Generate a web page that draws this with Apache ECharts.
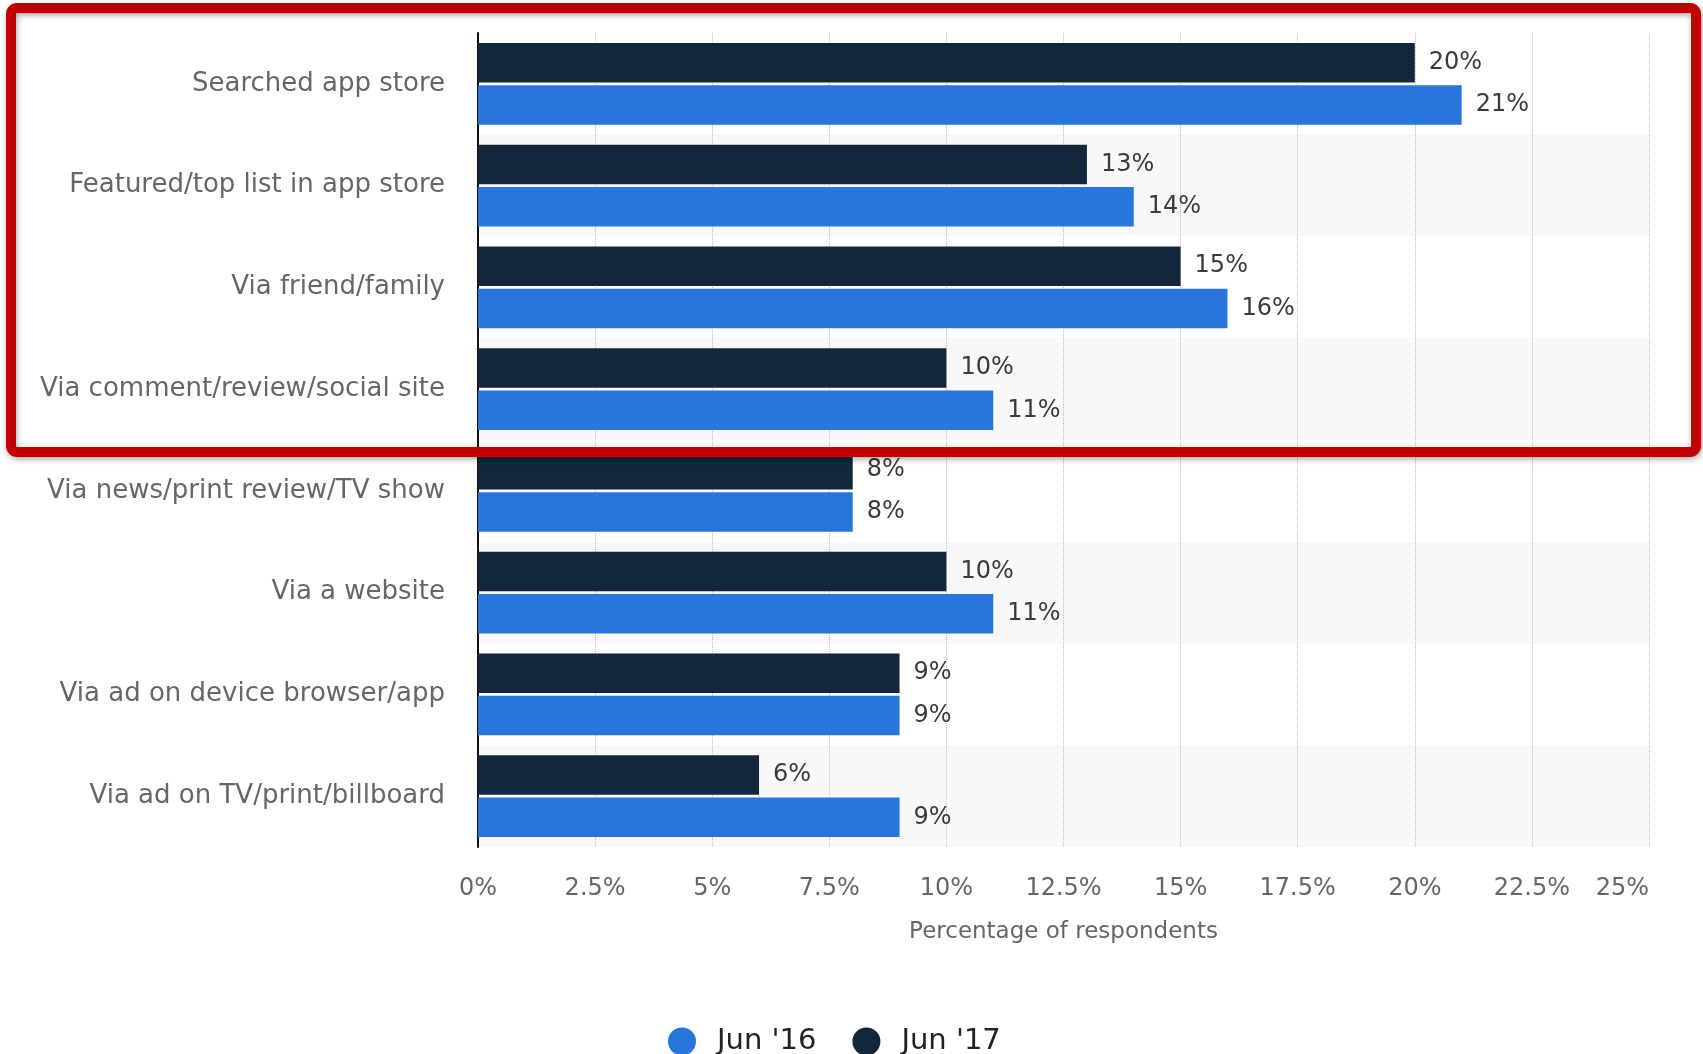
<!DOCTYPE html>
<html>
<head>
<meta charset="utf-8">
<script src="https://cdn.jsdelivr.net/npm/echarts@6/dist/echarts.min.js"></script>
<style>
html,body{margin:0;padding:0;background:#fff;}
#chart{width:1703px;height:1054px;}
</style>
</head>
<body>
<div id="chart"></div>
<script>
const categories = [
  "Searched app store",
  "Featured/top list in app store",
  "Via friend/family",
  "Via comment/review/social site",
  "Via news/print review/TV show",
  "Via a website",
  "Via ad on device browser/app",
  "Via ad on TV/print/billboard"
];
const jun16 = [21, 14, 16, 11, 8, 11, 9, 9];
const jun17 = [20, 13, 15, 10, 8, 10, 9, 6];
const seriesNames = ["Jun '16", "Jun '17"];
const xTicksMax = 25;
const xTickStep = 2.5;

const FONT = "'DejaVu Sans', 'Noto Sans', sans-serif";
const chart = echarts.init(document.getElementById('chart'), null, {renderer: 'canvas'});

const labelCfg = {
  show: true,
  position: 'right',
  distance: 14,
  formatter: p => p.value + '%',
  color: '#3a3a3a',
  fontSize: 24,
  fontFamily: FONT
};

chart.setOption({
  animation: false,
  backgroundColor: '#fff',
  grid: {left: 478, right: 54, top: 33, bottom: 207, containLabel: false},
  xAxis: {
    type: 'value',
    min: 0,
    max: xTicksMax,
    interval: xTickStep,
    name: 'Percentage of respondents',
    nameLocation: 'middle',
    nameGap: 74,
    nameTextStyle: {color: '#666', fontSize: 23, fontFamily: FONT},
    axisLine: {show: false},
    axisTick: {show: false},
    axisLabel: {
      color: '#666', fontSize: 24, fontFamily: FONT, margin: 30,
      formatter: v => v + '%',
      alignMaxLabel: 'right'
    },
    splitLine: {show: true, lineStyle: {color: '#bdbdbd', type: 'dotted', width: 1}}
  },
  yAxis: {
    type: 'category',
    data: categories,
    inverse: true,
    axisLine: {show: true, lineStyle: {color: '#111', width: 2}},
    axisTick: {show: false},
    axisLabel: {color: '#666', fontSize: 26, fontFamily: FONT, margin: 33},
    splitArea: {show: true, areaStyle: {color: ['#ffffff', '#f8f8f8']}},
    splitLine: {show: false}
  },
  legend: {
    data: seriesNames,
    left: 663,
    top: 1022,
    icon: 'circle',
    itemWidth: 28,
    itemHeight: 28,
    itemGap: 36,
    textStyle: {color: '#222', fontSize: 29, fontFamily: FONT, padding: [0, 0, 0, 16]}
  },
  series: [
    {
      name: seriesNames[1],
      type: 'bar',
      data: jun17,
      barGap: '7.5%',
      barCategoryGap: '19.5%',
      itemStyle: {color: '#13263b'},
      label: labelCfg
    },
    {
      name: seriesNames[0],
      type: 'bar',
      data: jun16,
      barGap: '7.5%',
      barCategoryGap: '19.5%',
      itemStyle: {color: '#2876dd'},
      label: labelCfg
    }
  ],
  graphic: [
    {
      type: 'rect',
      z: 100,
      shape: {x: 11, y: 8, width: 1685, height: 444, r: 6},
      style: {
        fill: 'none',
        stroke: '#c00000',
        lineWidth: 10,
        shadowBlur: 6,
        shadowColor: 'rgba(0,0,0,0.35)',
        shadowOffsetX: 1,
        shadowOffsetY: 2
      }
    }
  ]
});
</script>
</body>
</html>
